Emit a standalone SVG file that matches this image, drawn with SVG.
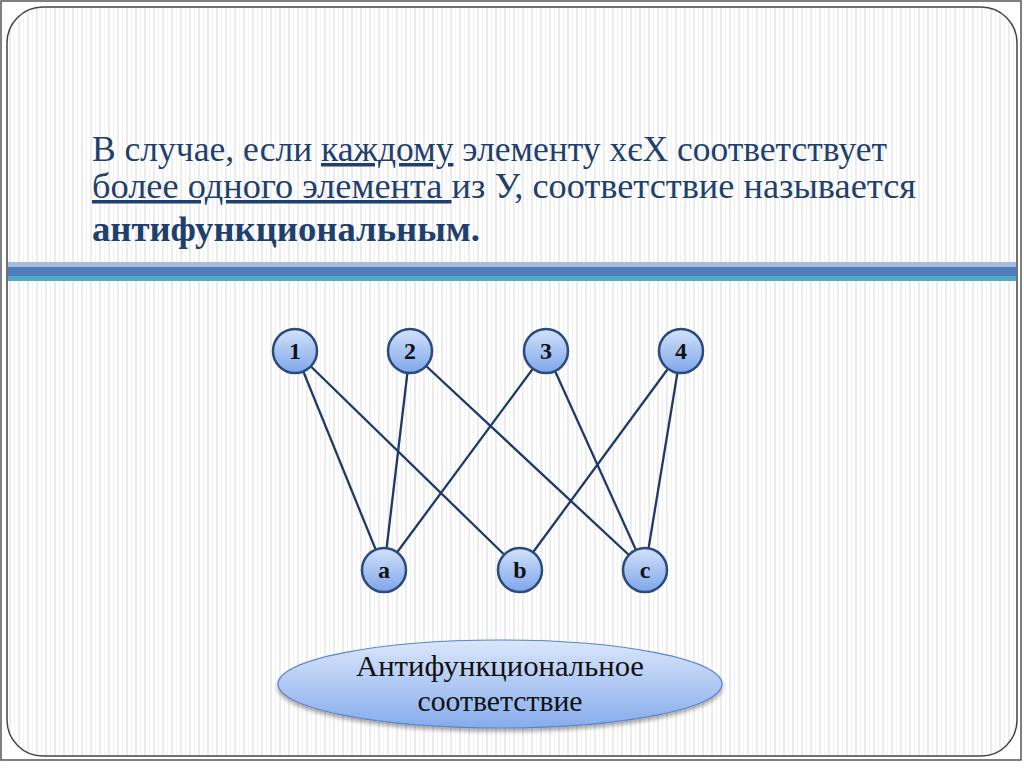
<svg xmlns="http://www.w3.org/2000/svg" width="1024" height="768" viewBox="0 0 1024 768">
<defs>
<pattern id="stripes" width="9" height="10" patternUnits="userSpaceOnUse">
<rect width="9" height="10" fill="#ffffff"/>
<rect x="0" width="2" height="10" fill="#ececec"/>
<rect x="5" width="1" height="10" fill="#f3f3f3"/>
</pattern>
<linearGradient id="nodeFill" x1="0" y1="0" x2="0" y2="1">
<stop offset="0" stop-color="#d3e2fb"/>
<stop offset="1" stop-color="#7ea6ea"/>
</linearGradient>
<linearGradient id="ellFill" x1="0" y1="0" x2="0" y2="1">
<stop offset="0" stop-color="#dbe7fb"/>
<stop offset="1" stop-color="#86acec"/>
</linearGradient>
<filter id="sh" x="-20%" y="-20%" width="140%" height="160%">
<feGaussianBlur in="SourceAlpha" stdDeviation="2"/>
<feOffset dy="3"/>
<feComponentTransfer><feFuncA type="linear" slope="0.35"/></feComponentTransfer>
<feMerge><feMergeNode/><feMergeNode in="SourceGraphic"/></feMerge>
</filter>
</defs>
<style>
.title{font-family:"Liberation Serif","DejaVu Serif",serif;font-size:35px;fill:#1f3f6e}
.u{text-decoration:underline}
.node circle{fill:url(#nodeFill);stroke:#2a4b7c;stroke-width:2.5}
.node text{font-family:"Liberation Serif","DejaVu Serif",serif;font-weight:bold;font-size:24px;fill:#111;text-anchor:middle}
.edges line{stroke:#1f3a68;stroke-width:2.3}
.etext{font-family:"Liberation Serif","DejaVu Serif",serif;font-size:30px;fill:#111;text-anchor:middle}
</style>
<rect x="0" y="0" width="1024" height="768" fill="#ffffff"/>
<rect x="1" y="1" width="1020" height="759" fill="none" stroke="#555" stroke-width="1.5"/>
<rect x="7" y="7" width="1010" height="749" rx="36" ry="36" fill="url(#stripes)" stroke="#444" stroke-width="1.5"/>
<g id="title">
<text class="title" x="92" y="161" textLength="795" lengthAdjust="spacingAndGlyphs">В случае, если <tspan class="u">каждому</tspan> элементу хєХ соответствует</text>
<text class="title" x="92" y="198" textLength="824" lengthAdjust="spacingAndGlyphs"><tspan class="u">более одного элемента </tspan>из У, соответствие называется</text>
<text class="title" x="92" y="241" font-weight="bold" textLength="388" lengthAdjust="spacingAndGlyphs">антифункциональным.</text>
</g>
<g id="bars">
<rect x="8" y="262" width="1008" height="5" fill="#a9bcd9"/>
<rect x="8" y="267" width="1008" height="9" fill="#4f7cbf"/>
<rect x="8" y="276" width="1008" height="5" fill="#4bacc6"/>
</g>
<g class="edges" id="edges">
<line x1="295" y1="351" x2="384" y2="570"/>
<line x1="295" y1="351" x2="520" y2="570"/>
<line x1="410" y1="351" x2="384" y2="570"/>
<line x1="410" y1="351" x2="645" y2="570"/>
<line x1="546" y1="351" x2="384" y2="570"/>
<line x1="546" y1="351" x2="645" y2="570"/>
<line x1="681" y1="351" x2="520" y2="570"/>
<line x1="681" y1="351" x2="645" y2="570"/>
</g>
<g class="node" id="n1"><circle cx="295" cy="351" r="22"/><text x="295" y="359">1</text></g>
<g class="node" id="n2"><circle cx="410" cy="351" r="22"/><text x="410" y="359">2</text></g>
<g class="node" id="n3"><circle cx="546" cy="351" r="22"/><text x="546" y="359">3</text></g>
<g class="node" id="n4"><circle cx="681" cy="351" r="22"/><text x="681" y="359">4</text></g>
<g class="node" id="na"><circle cx="384" cy="570" r="22"/><text x="384" y="578">a</text></g>
<g class="node" id="nb"><circle cx="520" cy="570" r="22"/><text x="520" y="578">b</text></g>
<g class="node" id="nc"><circle cx="645" cy="570" r="22"/><text x="645" y="578">c</text></g>
<g id="label">
<ellipse cx="500" cy="684" rx="222" ry="44" fill="url(#ellFill)" stroke="#5b86c6" stroke-width="1.2" filter="url(#sh)"/>
<text class="etext" x="500" y="676" textLength="288" lengthAdjust="spacingAndGlyphs">Антифункциональное</text>
<text class="etext" x="500" y="711" textLength="165" lengthAdjust="spacingAndGlyphs">соответствие</text>
</g>
</svg>
